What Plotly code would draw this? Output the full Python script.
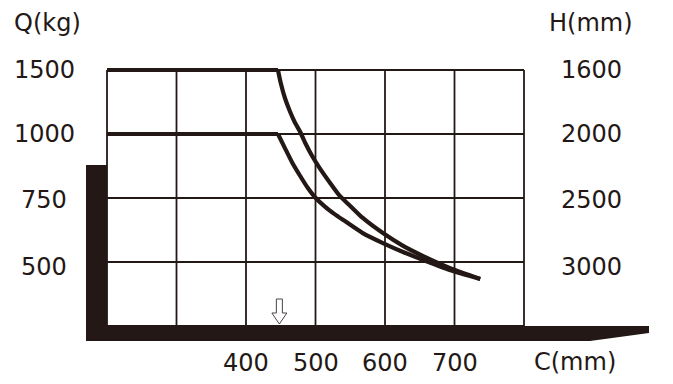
import numpy as np
import plotly.graph_objects as go

# ---------------- data ----------------
# load axis (left) tick values and matching lift height labels (right)
Q_TICKS = [500, 750, 1000, 1500]
H_LABELS = ["3000", "2500", "2000", "1600"]
# load-centre axis
C_TICKS = [400, 500, 600, 700]
C_GRID = [200, 300, 400, 500, 600, 700, 800]
# the load axis is stepped: each step is one grid row
Q_STEPS = [250, 500, 750, 1000, 1500]
LVL_STEPS = [0, 1, 2, 3, 4]

# capacity curves: load centre C (mm) -> load Q (kg)
C_UPPER = [200, 446, 450, 456, 463, 470, 478, 486, 496, 506, 521, 535, 550, 568, 597, 626, 655, 693, 737]
Q_UPPER = [1500, 1500, 1398, 1281, 1180, 1094, 1016, 961, 910, 867, 809, 758, 719, 672, 613, 563, 523, 477, 434]
C_LOWER = [200, 446, 456, 466, 478, 489, 499, 514, 527, 540, 568, 597, 626, 655, 693, 737]
Q_LOWER = [1000, 1000, 945, 891, 836, 789, 754, 715, 688, 664, 613, 574, 539, 508, 469, 434]

ARROW_C = 448  # load centre marker

# ---------------- styling / layout helpers ----------------
W, H = 673, 384
INK = "#231815"
FONT = "DejaVu Sans"
FS = 24
LABEL_YSHIFT = [-5, -2, 0, 0]  # small visual offsets of the row labels (px)


def px2c(px):
    return 200 + (px - 107) / 0.695


def py2lvl(py):
    return (326 - py) / 64.0


def q2lvl(q):
    return np.interp(q, Q_STEPS, LVL_STEPS)


fig = go.Figure()

# grid
gx, gy = [], []
top = q2lvl(max(Q_TICKS))
for c in C_GRID:
    gx += [c, c, None]
    gy += [0, top, None]
for lv in [0] + list(q2lvl(Q_TICKS)):
    gx += [C_GRID[0], C_GRID[-1], None]
    gy += [lv, lv, None]
fig.add_trace(go.Scatter(x=gx, y=gy, mode="lines",
                         line=dict(color=INK, width=1.8), hoverinfo="skip"))

# capacity curves: flat part straight, falling part smoothed
for cx, qy in [(C_UPPER, Q_UPPER), (C_LOWER, Q_LOWER)]:
    lv = q2lvl(qy)
    fig.add_trace(go.Scatter(x=cx[:2], y=lv[:2], mode="lines",
                             line=dict(color=INK, width=4.2), hoverinfo="skip"))
    fig.add_trace(go.Scatter(x=cx[1:], y=lv[1:], mode="lines",
                             line=dict(color=INK, width=4.2, shape="spline", smoothing=0.6),
                             hoverinfo="skip"))

# fork silhouette (decoration)
fork_px = [(86, 165), (107, 165), (107, 326), (649, 326), (649, 333), (590, 341), (86, 341)]
path = "M " + " L ".join(f"{px2c(a):.3f},{py2lvl(b):.4f}" for a, b in fork_px) + " Z"
shapes = [dict(type="path", path=path, xref="x", yref="y",
               fillcolor=INK, line=dict(color=INK, width=0))]

# hollow down arrow at load centre
d = 1 / 0.695
arrow = [(-3, 299), (3, 299), (3, 313), (7.5, 313), (0, 324), (-7.5, 313), (-3, 313)]
apath = "M " + " L ".join(f"{ARROW_C + dx * d:.3f},{py2lvl(b):.4f}" for dx, b in arrow) + " Z"
shapes.append(dict(type="path", path=apath, xref="x", yref="y",
                   fillcolor="white", line=dict(color="#4a4444", width=1)))

ann = []
font = dict(family=FONT, size=FS, color=INK)
for q, ys in zip(Q_TICKS, LABEL_YSHIFT):
    ann.append(dict(x=px2c(44), y=q2lvl(q), text=str(q), xref="x", yref="y", yshift=ys,
                    showarrow=False, xanchor="center", yanchor="middle", font=font))
for q, h, ys in zip(Q_TICKS, H_LABELS, LABEL_YSHIFT):
    ann.append(dict(x=px2c(591), y=q2lvl(q), text=h, xref="x", yref="y", yshift=ys,
                    showarrow=False, xanchor="center", yanchor="middle", font=font))
for c in C_TICKS:
    ann.append(dict(x=c, y=py2lvl(363), text=str(c), xref="x", yref="y",
                    showarrow=False, xanchor="center", yanchor="middle", font=font))
ann.append(dict(x=px2c(47), y=py2lvl(23), text="Q(kg)", xref="x", yref="y",
                showarrow=False, xanchor="center", yanchor="middle", font=font))
ann.append(dict(x=px2c(591), y=py2lvl(23), text="H(mm)", xref="x", yref="y",
                showarrow=False, xanchor="center", yanchor="middle", font=font))
ann.append(dict(x=px2c(575), y=py2lvl(362), text="C(mm)", xref="x", yref="y",
                showarrow=False, xanchor="center", yanchor="middle", font=font))

fig.update_layout(
    width=W, height=H, margin=dict(l=0, r=0, t=0, b=0),
    showlegend=False, plot_bgcolor="white", paper_bgcolor="white",
    xaxis=dict(range=[px2c(0), px2c(W)], visible=False, fixedrange=True),
    yaxis=dict(range=[py2lvl(H), py2lvl(0)], visible=False, fixedrange=True),
    shapes=shapes, annotations=ann,
)

fig.write_html(
    "out.html",
    config={"displayModeBar": False},
    post_script="document.body.style.margin='0';document.body.style.overflow='hidden';",
)
